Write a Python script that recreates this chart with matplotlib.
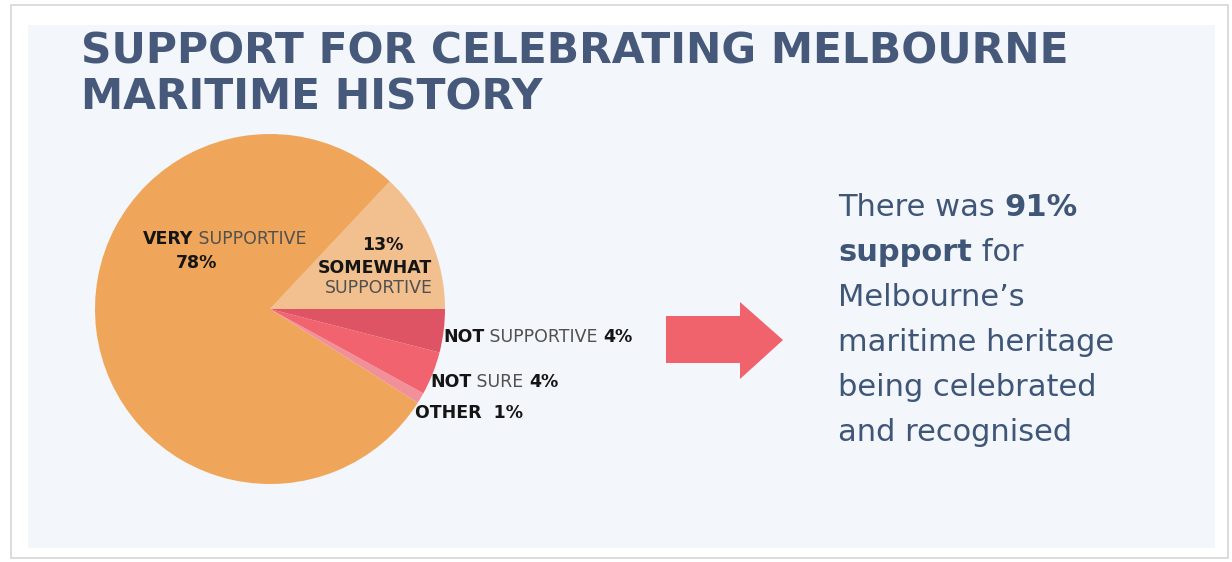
import matplotlib
matplotlib.use('Agg')
import matplotlib.pyplot as plt
from matplotlib.patches import Rectangle, Polygon

# data
labels = ['Somewhat supportive', 'Very supportive', 'Other', 'Not sure', 'Not supportive']
values = [13, 78, 1, 4, 4]
colors = ['#F2BF8E', '#EFA65B', '#F2909A', '#F1646F', '#DF5464']

title_lines = ['SUPPORT FOR CELEBRATING MELBOURNE', 'MARITIME HISTORY']

W, H = 1232, 562
fig = plt.figure(figsize=(W / 100, H / 100), dpi=100, facecolor='white')
ax = fig.add_axes([0, 0, 1, 1])
renderer = fig.canvas.get_renderer()


def Y(y):
    # image y (top down) -> axes y (bottom up)
    return H - y


# frame and panel
ax.add_patch(Rectangle((11, Y(558)), 1217, 553, facecolor='white',
                       edgecolor='#d6d6d6', lw=1.2))
ax.add_patch(Rectangle((28, Y(548)), 1187, 523, facecolor='#F3F6FA', edgecolor='none'))

# pie
ax.pie(values, colors=colors, startangle=0, counterclock=True,
       center=(270, Y(309)), radius=175, frame=True,
       wedgeprops=dict(linewidth=0))

ax.set_xlim(0, W)
ax.set_ylim(0, H)
ax.axis('off')

title_col = '#46597A'
for i, line in enumerate(title_lines):
    ax.text(81, Y(52 + i * 45), line, fontsize=30.5, color=title_col, va='center',
            fontweight='bold')


def chain(x, y, parts):
    # parts: list of (text, dict of kw); placed one after the other on a baseline
    for txt, kw in parts:
        t = ax.text(x, Y(y), txt, ha='left', va='baseline', **kw)
        x = t.get_window_extent(renderer).x1


black = '#151515'
gray = '#505050'
fs = 12.5
B = dict(fontsize=fs, color=black, fontweight='bold')
R = dict(fontsize=fs, color=gray)

chain(143, 244, [('VERY', B), (' SUPPORTIVE', R)])
ax.text(197, Y(268), '78%', ha='center', **B)
ax.text(383, Y(250), '13%', ha='center', **B)
ax.text(375, Y(273), 'SOMEWHAT', ha='center', **B)
ax.text(379, Y(293), 'SUPPORTIVE', ha='center', **R)
chain(443, 342, [('NOT', B), (' SUPPORTIVE ', R), ('4%', B)])
chain(430, 387, [('NOT', B), (' SURE ', R), ('4%', B)])
chain(415, 418, [('OTHER  1%', B)])

# arrow
arrow_col = '#F0626C'
ax.add_patch(Polygon([(666, Y(316)), (740, Y(316)), (740, Y(302)), (783, Y(340)),
                      (740, Y(379)), (740, Y(363)), (666, Y(363))],
                     closed=True, facecolor=arrow_col, edgecolor='none'))

# right text
txt_col = '#3F5678'
rfs = 22
N = dict(fontsize=rfs, color=txt_col)
BB = dict(fontsize=rfs, color=txt_col, fontweight='bold')
lines = [[('There was ', N), ('91%', BB)],
         [('support', BB), (' for', N)],
         [('Melbourne\u2019s', N)],
         [('maritime heritage', N)],
         [('being celebrated', N)],
         [('and recognised', N)]]
for i, parts in enumerate(lines):
    chain(838, 216 + i * 45, parts)

fig.savefig('out.png', dpi=100, facecolor='white')
